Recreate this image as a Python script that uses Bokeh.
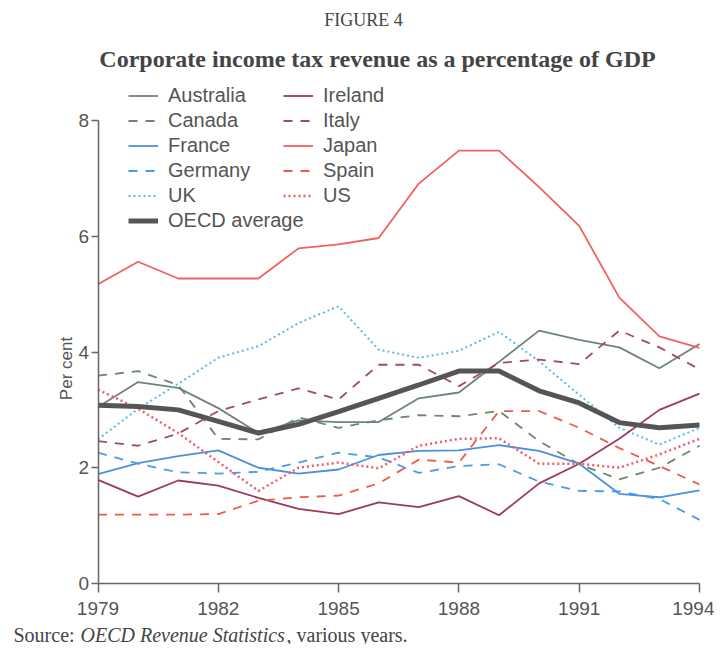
import math
from bokeh.plotting import figure
from bokeh.models import Legend, LegendItem, Label, FixedTicker, Range1d
from bokeh.embed import file_html
from bokeh.resources import INLINE

# ---------------- data (per cent of GDP) ----------------
years = list(range(1979, 1995))
australia = [3.05, 3.48, 3.38, 3.03, 2.60, 2.82, 2.79, 2.79, 3.20, 3.30, 3.83, 4.37, 4.21, 4.08, 3.72, 4.14]
canada    = [3.59, 3.67, 3.43, 2.50, 2.49, 2.87, 2.69, 2.82, 2.91, 2.89, 2.98, 2.46, 2.06, 1.80, 2.00, 2.38]
france    = [1.89, 2.08, 2.20, 2.30, 2.00, 1.90, 1.97, 2.22, 2.29, 2.30, 2.39, 2.29, 2.07, 1.55, 1.49, 1.61]
germany   = [2.26, 2.07, 1.92, 1.90, 1.93, 2.09, 2.26, 2.18, 1.91, 2.03, 2.06, 1.76, 1.60, 1.59, 1.46, 1.10]
uk        = [2.49, 3.02, 3.45, 3.90, 4.10, 4.50, 4.79, 4.04, 3.90, 4.02, 4.35, 3.84, 3.26, 2.69, 2.40, 2.69]
ireland   = [1.79, 1.50, 1.78, 1.69, 1.48, 1.29, 1.20, 1.40, 1.32, 1.51, 1.18, 1.73, 2.07, 2.50, 3.00, 3.28]
italy     = [2.46, 2.38, 2.59, 2.98, 3.18, 3.37, 3.18, 3.78, 3.78, 3.41, 3.81, 3.87, 3.79, 4.37, 4.08, 3.70]
japan     = [5.17, 5.56, 5.27, 5.27, 5.27, 5.79, 5.86, 5.97, 6.91, 7.48, 7.48, 6.85, 6.18, 4.94, 4.27, 4.07]
spain     = [1.19, 1.19, 1.19, 1.20, 1.43, 1.49, 1.52, 1.73, 2.14, 2.09, 2.98, 2.98, 2.69, 2.34, 2.03, 1.71]
us        = [3.35, 3.02, 2.60, 2.10, 1.60, 2.00, 2.09, 1.99, 2.38, 2.50, 2.51, 2.07, 2.07, 2.00, 2.23, 2.50]
oecd      = [3.08, 3.06, 3.00, 2.80, 2.60, 2.75, 2.97, 3.20, 3.43, 3.67, 3.67, 3.33, 3.12, 2.78, 2.69, 2.74]

x_ticks = years[::3]
y_ticks = [0, 2, 4, 6, 8]
Y_MIN, Y_MAX = 0, 8

# ---------------- layout (canvas pixels) ----------------
W, H = 714, 644
PX_L, PX_R = 97.5, 699.0     # pixel of first / last year
PX_B, PX_T = 583.0, 120.0    # pixel of Y_MIN / Y_MAX

kx = (PX_R - PX_L) / (years[-1] - years[0])
ky = (PX_B - PX_T) / (Y_MAX - Y_MIN)

x_range = Range1d(years[0] - PX_L / kx, years[-1] + (W - PX_R) / kx)
y_range = Range1d(Y_MIN - (H - PX_B) / ky, Y_MAX + PX_T / ky)

p = figure(width=W, height=H, output_backend="svg", toolbar_location=None,
           x_range=x_range, y_range=y_range,
           min_border=0, min_border_left=0, min_border_right=0,
           min_border_top=0, min_border_bottom=0)
p.outline_line_color = None
p.xgrid.visible = False
p.ygrid.visible = False
p.background_fill_color = "white"
p.border_fill_color = "white"

AX = "#666666"
TXT = "#555555"
for ax in (p.xaxis, p.yaxis):
    ax.axis_line_color = AX
    ax.axis_line_width = 1.5
    ax.major_tick_line_color = AX
    ax.major_tick_line_width = 1.5
    ax.major_tick_in = 0
    ax.minor_tick_line_color = None
    ax.major_label_text_font = "Liberation Sans"
    ax.major_label_text_font_size = "19px"
    ax.major_label_text_color = TXT
p.xaxis.ticker = FixedTicker(ticks=x_ticks)
p.yaxis.ticker = FixedTicker(ticks=y_ticks)
p.xaxis.fixed_location = Y_MIN
p.yaxis.fixed_location = years[0]
p.xaxis.bounds = (years[0], years[-1])
p.yaxis.bounds = (Y_MIN, Y_MAX)
p.xaxis.major_tick_out = 9
p.yaxis.major_tick_out = 7
p.xaxis.major_label_standoff = 9
p.yaxis.major_label_standoff = 2

series = [
    ("Australia", australia, "#6e8478", "solid", 1.8),
    ("Canada", canada, "#6a8a66", "9 8", 1.8),
    ("France", france, "#4a8fe0", "solid", 1.8),
    ("Germany", germany, "#4a9be8", "9 8", 1.8),
    ("UK", uk, "#5ab8f0", "2 3", 2),
    ("Ireland", ireland, "#9a3a62", "solid", 1.8),
    ("Italy", italy, "#a04870", "9 8", 1.8),
    ("Japan", japan, "#f26060", "solid", 1.8),
    ("Spain", spain, "#f05a4a", "9 8", 1.8),
    ("US", us, "#f25a6a", "2 3", 2.5),
    ("OECD average", oecd, "#555555", "solid", 5),
]

renderers = {}
for name, vals, col, dash, lw in series:
    renderers[name] = p.line(years, vals, line_color=col, line_width=lw, line_dash=dash)

col1 = ["Australia", "Canada", "France", "Germany", "UK", "OECD average"]
col2 = ["Ireland", "Italy", "Japan", "Spain", "US"]

ROW_H, SP = 23, 2
LEG_TOP = 83.5  # canvas px


def make_legend(names, x_px):
    n = len(names)
    h = n * ROW_H + (n - 1) * SP
    bottom = LEG_TOP + h
    leg = Legend(items=[LegendItem(label=nm, renderers=[renderers[nm]]) for nm in names],
                 location=(x_px, H - bottom), orientation="vertical",
                 border_line_color=None, background_fill_alpha=0,
                 padding=0, margin=0, spacing=SP,
                 label_height=ROW_H, glyph_height=ROW_H, glyph_width=30,
                 label_standoff=10, label_text_font="Liberation Sans",
                 label_text_font_size="20px", label_text_color=TXT)
    p.add_layout(leg)


make_legend(col1, 128)
make_legend(col2, 283)


def dx(px):
    return years[0] + (px - PX_L) / kx


def dy(py):
    return Y_MIN + (PX_B - py) / ky


def add_text(txt, px, py, size, style="normal", align="left", font="Liberation Serif",
             color="#444444", angle=0.0):
    p.add_layout(Label(x=dx(px), y=dy(py), text=txt, text_font=font,
                       text_font_size=size, text_font_style=style, text_color=color,
                       text_align=align, text_baseline="middle", angle=angle))


add_text("FIGURE 4", 363, 19, "18px", align="center")
add_text("Corporate income tax revenue as a percentage of GDP", 377, 58, "24px", style="bold", align="center")
add_text("Per cent", 66, 368, "17px", align="center", font="Liberation Sans", color=TXT, angle=math.pi / 2)
add_text("Source:", 13, 634, "20px")
add_text("OECD Revenue Statistics", 80, 634, "20px", style="italic")
add_text(", various years.", 286, 634, "20px")

open("out.html", "w").write(file_html(p, INLINE))
